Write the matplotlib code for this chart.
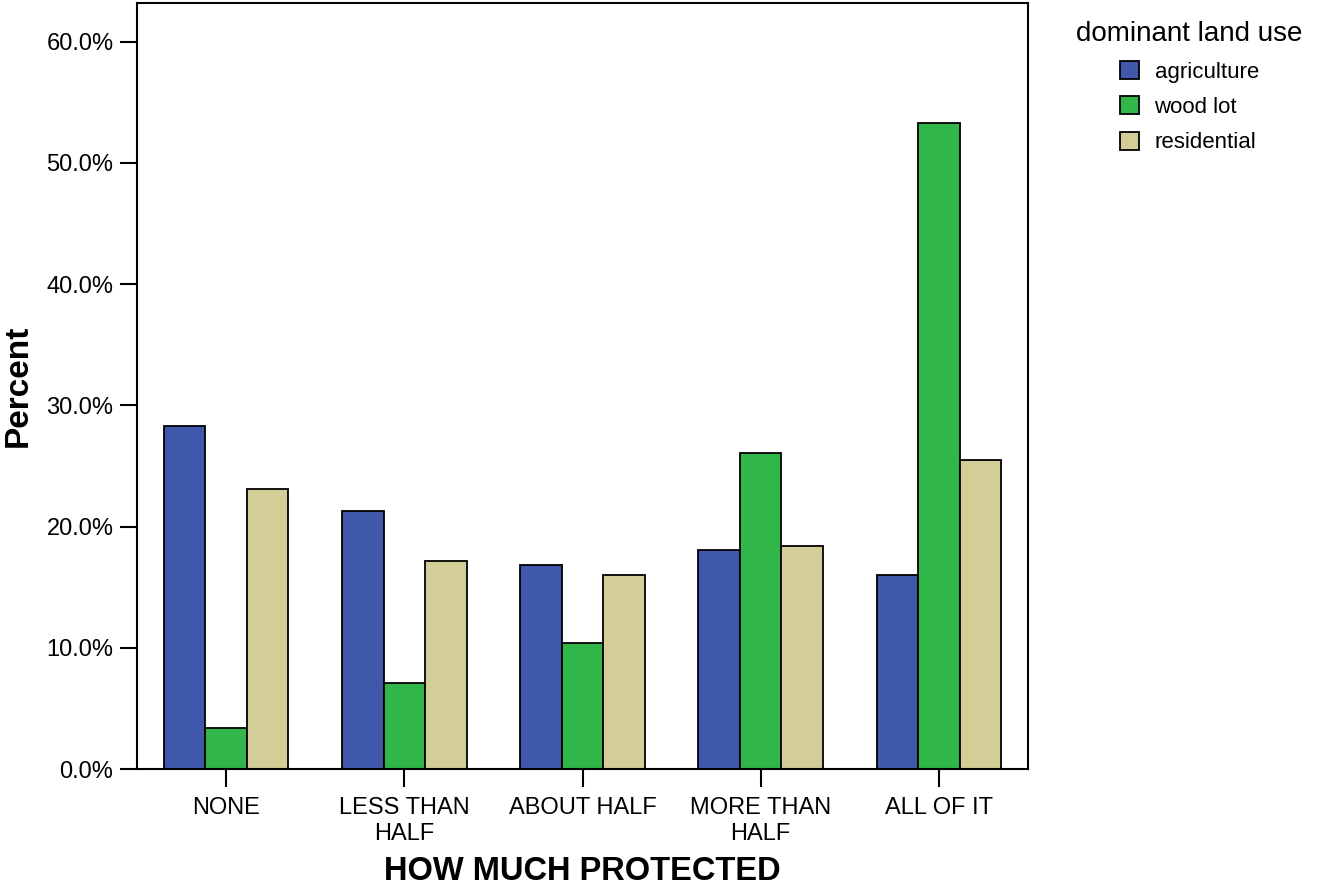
import numpy as np
import matplotlib
matplotlib.use("Agg")
import matplotlib.pyplot as plt
from matplotlib.ticker import FuncFormatter

plt.rcParams['font.family'] = ['Liberation Sans', 'DejaVu Sans']

# data (percent within each land-use group)
categories = ["NONE", "LESS THAN\nHALF", "ABOUT HALF", "MORE THAN\nHALF", "ALL OF IT"]
series_names = ["agriculture", "wood lot", "residential"]
agriculture = [28.3, 21.3, 16.8, 18.1, 16.0]
wood_lot = [3.4, 7.1, 10.4, 26.1, 53.3]
residential = [23.1, 17.2, 16.0, 18.4, 25.5]
y_ticks = [0, 10, 20, 30, 40, 50, 60]

colors = ["#3f58ab", "#30b649", "#d3ce97"]

fig = plt.figure(figsize=(13.17, 8.88), dpi=100)
ax = fig.add_axes([137 / 1317, 119 / 888, (1028 - 137) / 1317, (769 - 3) / 888])

x = np.arange(len(categories))
w = 0.233
for i, (vals, name) in enumerate(zip([agriculture, wood_lot, residential], series_names)):
    ax.bar(x + (i - 1) * w, vals, width=w, color=colors[i], edgecolor="black",
           linewidth=1.3, label=name, zorder=2)

ax.set_xlim(-0.5, len(categories) - 0.5)
ax.set_ylim(0, 63.2)
ax.set_yticks(y_ticks)
ax.yaxis.set_major_formatter(FuncFormatter(lambda v, p: f"{v:.1f}%"))
ax.set_xticks(x)
ax.set_xticklabels(categories, fontsize=17, linespacing=1.25)
ax.tick_params(axis="y", labelsize=17, length=12, width=1.5, pad=5)
ax.tick_params(axis="x", length=13, width=1.5, pad=7)
for s in ax.spines.values():
    s.set_linewidth(1.5)

ax.set_xlabel("HOW MUCH PROTECTED", fontsize=23.5, fontweight="bold", labelpad=8)
ax.set_ylabel("Percent", fontsize=24, fontweight="bold", labelpad=9)

leg = fig.legend(loc="upper left", bbox_to_anchor=(1065 / 1317, 1 - 10 / 888),
                 frameon=False, fontsize=16, title="dominant land use",
                 title_fontsize=20, handlelength=0.86, handleheight=0.86,
                 handletextpad=0.7, labelspacing=0.62, borderpad=0)

fig.savefig("out.png", dpi=100)
